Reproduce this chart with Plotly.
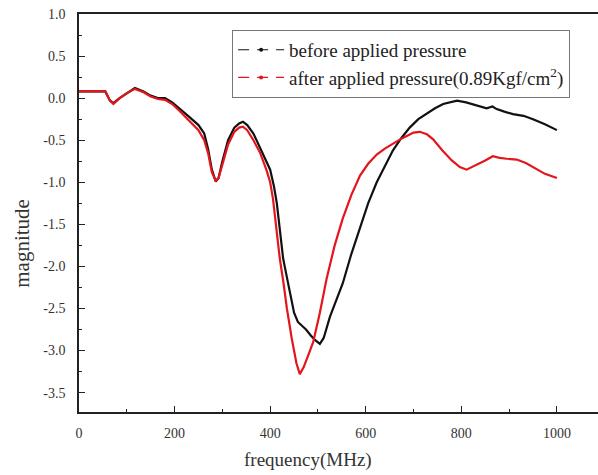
import plotly.graph_objects as go

# ---- data ----
freq_before = [0, 20, 40, 55, 65, 72, 85, 100, 117, 135, 150, 165, 180, 195, 210, 230, 250, 262, 270, 278, 286, 292, 300, 312, 325, 335, 343, 352, 365, 379, 392, 400, 408, 414, 420, 427, 434, 441, 450, 458, 466, 475, 485, 495, 504, 512, 525, 540, 552, 570, 588, 605, 623, 640, 657, 675, 692, 710, 728, 745, 762, 780, 791, 810, 830, 853, 865, 874, 890, 908, 930, 950, 975, 1000]
mag_before = [0.08, 0.08, 0.08, 0.08, -0.03, -0.06, 0.0, 0.06, 0.12, 0.08, 0.03, 0.0, 0.0, -0.05, -0.12, -0.22, -0.32, -0.42, -0.6, -0.85, -0.99, -0.95, -0.75, -0.5, -0.35, -0.3, -0.28, -0.32, -0.42, -0.6, -0.75, -0.85, -1.05, -1.25, -1.55, -1.9, -2.1, -2.3, -2.55, -2.66, -2.7, -2.75, -2.82, -2.88, -2.92, -2.85, -2.6, -2.38, -2.2, -1.85, -1.55, -1.25, -1.0, -0.8, -0.62, -0.47, -0.35, -0.25, -0.18, -0.12, -0.07, -0.04, -0.03, -0.05, -0.08, -0.12, -0.1, -0.13, -0.16, -0.19, -0.21, -0.25, -0.31, -0.38]

freq_after = [0, 20, 40, 55, 65, 72, 85, 100, 117, 135, 150, 165, 180, 195, 210, 230, 250, 262, 270, 278, 286, 292, 300, 312, 325, 335, 343, 352, 365, 379, 392, 400, 406, 413, 420, 428, 435, 445, 455, 462, 470, 480, 490, 504, 518, 535, 552, 570, 588, 605, 623, 640, 657, 672, 686, 700, 713, 728, 741, 760, 780, 797, 811, 830, 850, 866, 880, 895, 916, 935, 955, 975, 1000]
mag_after = [0.08, 0.08, 0.08, 0.08, -0.03, -0.07, 0.0, 0.06, 0.11, 0.07, 0.02, -0.01, -0.02, -0.07, -0.15, -0.27, -0.38, -0.5, -0.65, -0.88, -0.98, -0.95, -0.78, -0.55, -0.4, -0.35, -0.34, -0.38, -0.5, -0.65, -0.85, -1.0, -1.2, -1.55, -1.9, -2.2, -2.5, -2.85, -3.15, -3.28, -3.2, -3.05, -2.9, -2.55, -2.15, -1.75, -1.43, -1.15, -0.92, -0.78, -0.67, -0.6, -0.54, -0.49, -0.45, -0.41, -0.4, -0.43, -0.49, -0.62, -0.74, -0.82, -0.85, -0.8, -0.74, -0.69, -0.71, -0.72, -0.73, -0.77, -0.84, -0.9, -0.95]

series_names = ["before applied pressure", "after applied pressure(0.89Kgf/cm<sup>2</sup>)"]
series_colors = ["#111111", "#e3151d"]

x_tickvals = [0, 200, 400, 600, 800, 1000]
x_ticktext = ["0", "200", "400", "600", "800", "1000"]
y_tickvals = [1.0, 0.5, 0.0, -0.5, -1.0, -1.5, -2.0, -2.5, -3.0, -3.5]
y_ticktext = ["1.0", "0.5", "0.0", "-0.5", "-1.0", "-1.5", "-2.0", "-2.5", "-3.0", "-3.5"]
x_title = "frequency(MHz)"
y_title = "magnitude"

FONT = "Liberation Serif, Times New Roman, serif"

fig = go.Figure()
for fx, my, color in [(freq_before, mag_before, series_colors[0]), (freq_after, mag_after, series_colors[1])]:
    fig.add_trace(go.Scatter(x=fx, y=my, mode="lines", line=dict(color=color, width=2.2),
                             showlegend=False))
# legend entries ("— • —" style)
for name, color in zip(series_names, series_colors):
    fig.add_trace(go.Scatter(x=[None], y=[None], mode="lines+markers", name=name,
                             line=dict(color=color, width=1.2, dash="11px,8px"),
                             marker=dict(color=color, size=4)))

axis_common = dict(showline=True, linecolor="#222", linewidth=1.5, ticks="inside",
                   tickcolor="#222", tickwidth=1.2, ticklen=6, showgrid=False, zeroline=False,
                   tickfont=dict(family=FONT, size=14, color="#333"))

fig.update_xaxes(range=[0, 1086], tickmode="array", tickvals=x_tickvals, ticktext=x_ticktext,
                 minor=dict(dtick=100, ticks="inside", ticklen=3, tickcolor="#222", tickwidth=1),
                 ticklabelstandoff=7, mirror=True, **axis_common)
fig.update_yaxes(range=[-3.73, 1.0], tickmode="array", tickvals=y_tickvals, ticktext=y_ticktext,
                 minor=dict(dtick=0.25, tick0=0, ticks="inside", ticklen=3, tickcolor="#222", tickwidth=1),
                 ticklabelstandoff=9, **axis_common)

fig.update_layout(
    width=598, height=475,
    margin=dict(l=79, r=0, t=14, b=63),
    paper_bgcolor="white", plot_bgcolor="white",
    font=dict(family=FONT, color="#333"),
    legend=dict(x=0.295, y=0.96, xanchor="left", yanchor="top",
                bgcolor="white", bordercolor="#777", borderwidth=1,
                font=dict(family=FONT, size=19, color="#222"),
                itemwidth=46, tracegroupgap=0),
    annotations=[
        dict(text=x_title, xref="paper", yref="paper", x=0.441, y=-0.121,
             xanchor="center", yanchor="middle", showarrow=False,
             font=dict(family=FONT, size=19, color="#333")),
        dict(text=y_title, xref="paper", yref="paper", x=-0.110, y=0.425, textangle=-90,
             xanchor="center", yanchor="middle", showarrow=False,
             font=dict(family=FONT, size=21, color="#333")),
    ],
)

fig.write_html("out.html")
